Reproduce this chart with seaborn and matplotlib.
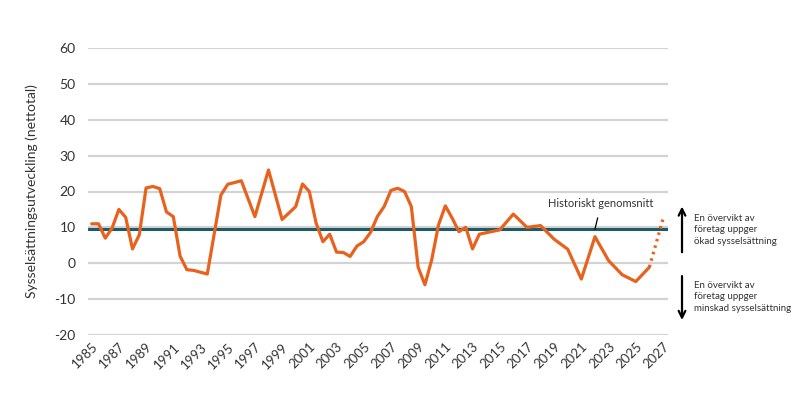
import matplotlib
matplotlib.use("Agg")
import matplotlib.pyplot as plt
import seaborn as sns

# Sysselsättningsutveckling (nettotal), halvårs- och helårsvärden
years = [1985, 1985.5, 1986, 1986.5, 1987, 1987.5, 1988, 1988.5, 1989, 1989.5,
         1990, 1990.5, 1991, 1991.5, 1992, 1992.5, 1993.5, 1994.5, 1995, 1996,
         1997, 1998, 1999, 2000, 2000.5, 2001, 2001.5, 2002, 2002.5, 2003,
         2003.5, 2004, 2004.5, 2005, 2005.5, 2006, 2006.5, 2007, 2007.5, 2008,
         2008.5, 2009, 2009.5, 2010, 2010.5, 2011, 2011.5, 2012, 2012.5, 2013,
         2013.5, 2015, 2016, 2017, 2018, 2019, 2020, 2021, 2022, 2023,
         2024, 2025, 2026]
values = [11, 11, 7, 9.8, 15, 12.8, 4, 7.9, 21, 21.4,
          20.8, 14.3, 13, 2, -1.8, -2, -3, 19, 22, 23,
          13, 26, 12.2, 15.8, 22.1, 20, 11.2, 6, 8.1, 3.1,
          3, 1.9, 4.8, 6, 8.6, 13, 15.8, 20.3, 20.9, 20,
          15.8, -1.1, -6, 1, 10.7, 16, 12.6, 8.8, 10, 4,
          8.1, 9.3, 13.7, 10, 10.5, 6.7, 3.9, -4.4, 7.4, 0.75,
          -3.2, -5.1, -1.1]

forecast_years = [2026, 2027]
forecast_values = [-1.1, 12.3]

hist_mean = 9.5
xtick_years = list(range(1985, 2028, 2))
yticks = list(range(-20, 61, 10))

ORANGE = "#E8621E"
TEAL = "#1F5B66"
GRID = "#d3d3d3"
TEXT = "#333333"

sns.set_style("white")
plt.rcParams["font.family"] = ["Lato", "DejaVu Sans"]
plt.rcParams["axes.unicode_minus"] = False

fig = plt.figure(figsize=(8, 4), dpi=100)
ax = fig.add_axes([0.11, 0.1625, 0.725, 0.7175])

ax.set_xlim(1984.73, 2027.37)
ax.set_ylim(-20, 60)
ax.set_yticks(yticks)
ax.yaxis.grid(True, color=GRID, linewidth=1.6, zorder=0)
ax.xaxis.grid(False)
ax.set_axisbelow(True)

ax.axhline(hist_mean, color=TEAL, linewidth=2.2, zorder=2)

sns.lineplot(x=years, y=values, sort=False, color=ORANGE, linewidth=2.3,
             ax=ax, zorder=3)
sns.lineplot(x=forecast_years, y=forecast_values, sort=False, color=ORANGE,
             linewidth=2.3, linestyle=(0, (0.8, 1.3)), ax=ax, zorder=3)

ax.set_xticks(xtick_years)
ax.set_xticklabels([str(y) for y in xtick_years], rotation=45, ha="right",
                   rotation_mode="anchor", fontsize=9.5, color=TEXT)
ax.tick_params(axis="y", length=0, pad=9, labelsize=10, labelcolor=TEXT)
ax.tick_params(axis="x", length=0, pad=4)
ax.set_ylabel("Sysselsättningsutveckling (nettotal)", fontsize=10,
              color=TEXT, labelpad=12)
ax.set_xlabel("")
for s in ax.spines.values():
    s.set_visible(False)

# Historiskt genomsnitt
ax.annotate("Historiskt genomsnitt", xy=(2022.0, hist_mean),
            xytext=(2022.45, 16.6), ha="center", va="center",
            fontsize=8, color=TEXT,
            arrowprops=dict(arrowstyle="-", color="black", lw=0.9,
                            shrinkA=4, shrinkB=0))

# Pilar och förklaringar till höger
ax.annotate("", xy=(2028.4, 16.6), xytext=(2028.4, 2.3),
            annotation_clip=False,
            arrowprops=dict(arrowstyle="->", color="black", lw=1.6,
                            mutation_scale=12))
ax.annotate("", xy=(2028.4, -16.6), xytext=(2028.4, -2.8),
            annotation_clip=False,
            arrowprops=dict(arrowstyle="->", color="black", lw=1.6,
                            mutation_scale=12))
ax.text(2029.3, 9.3, "En övervikt av\nföretag uppger\nökad sysselsättning",
        fontsize=7, color=TEXT, va="center", ha="left", linespacing=1.35,
        clip_on=False)
ax.text(2029.3, -9.4, "En övervikt av\nföretag uppger\nminskad sysselsättning",
        fontsize=7, color=TEXT, va="center", ha="left", linespacing=1.35,
        clip_on=False)

fig.savefig("out.png", dpi=100, facecolor="white")
plt.close(fig)
